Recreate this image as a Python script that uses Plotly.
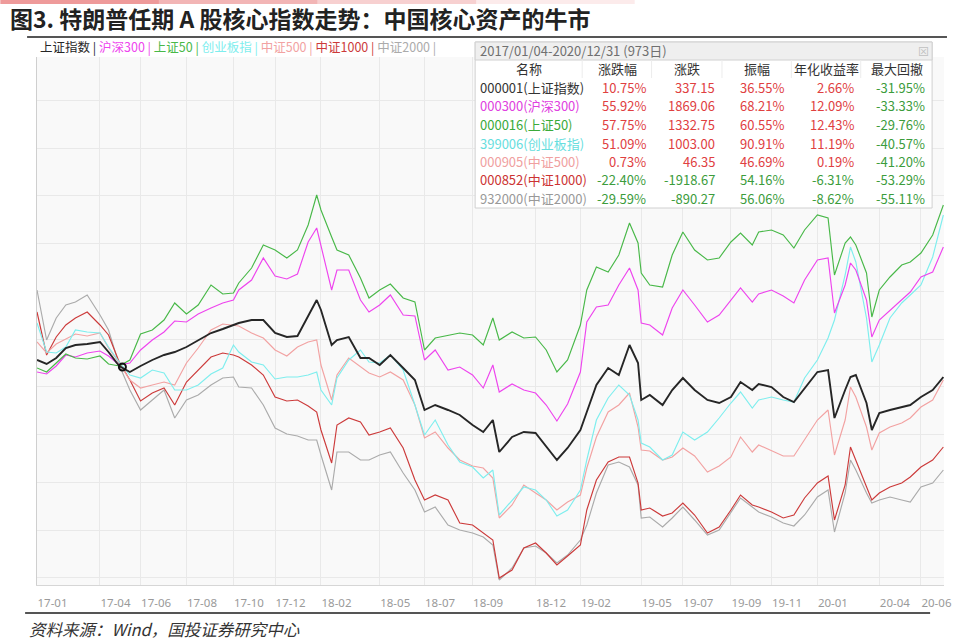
import plotly.graph_objects as go
import pandas as pd

# ---------------- data (normalised % change) ----------------
dates = [
"2017-01-03","2017-01-16","2017-02-01","2017-02-16","2017-03-01","2017-03-16","2017-04-01","2017-04-16","2017-05-01","2017-05-16",
"2017-06-01","2017-06-16","2017-07-01","2017-07-16","2017-08-01","2017-08-16","2017-09-01","2017-09-16","2017-10-01","2017-10-16",
"2017-11-01","2017-11-16","2017-12-01","2017-12-16","2018-01-01","2018-01-16","2018-01-26","2018-02-01","2018-02-16","2018-03-01",
"2018-03-16","2018-04-01","2018-04-16","2018-05-01","2018-05-16","2018-06-01","2018-06-16","2018-07-01","2018-07-16","2018-08-01",
"2018-08-16","2018-09-01","2018-09-16","2018-10-01","2018-10-16","2018-11-01","2018-11-16","2018-12-01","2018-12-16","2019-01-01",
"2019-01-16","2019-02-01","2019-02-16","2019-03-01","2019-03-16","2019-04-01","2019-04-16","2019-04-26","2019-05-06","2019-05-16",
"2019-06-01","2019-06-16","2019-07-01","2019-07-16","2019-08-01","2019-08-16","2019-09-01","2019-09-16","2019-10-01","2019-10-16",
"2019-11-01","2019-11-16","2019-12-01","2019-12-16","2020-01-01","2020-01-16","2020-02-03","2020-02-16","2020-02-24","2020-03-01",
"2020-03-16","2020-03-23","2020-04-01","2020-04-16","2020-05-01","2020-05-16","2020-06-01","2020-06-16","2020-07-02"]

sse = [1.6,0.8,2.0,4.0,4.6,4.8,5.2,3.2,0.4,-0.8,
       0.4,1.6,2.6,3.2,4.2,5.6,7.0,7.8,8.6,9.0,
       9.6,9.6,7.0,6.2,6.4,10.4,13.6,11.6,4.6,5.6,
       6.2,2.0,2.0,0.6,2.6,0.0,-2.4,-8.4,-7.4,-8.4,
       -9.4,-11.4,-12.8,-10.4,-16.8,-13.8,-12.8,-13.0,-15.8,-18.4,
       -16.0,-12.4,-8.8,-3.4,0.0,-1.4,4.6,1.0,-6.4,-5.4,
       -7.4,-4.4,-2.0,-4.4,-6.4,-7.0,-5.8,-2.8,-4.4,-3.2,
       -3.8,-5.8,-6.8,-4.0,-0.8,-0.4,-10.0,-4.4,-1.8,-1.4,
       -7.0,-12.4,-9.0,-8.4,-7.8,-7.4,-5.8,-4.4,-1.8]

sz50 = [0.0,-0.8,1.0,2.8,2.0,1.8,2.4,0.8,0.4,1.6,
        6.8,7.6,9.6,13.0,10.8,12.6,16.6,14.8,15.0,17.0,
        20.0,24.6,23.6,22.0,23.6,28.6,34.6,31.6,26.2,23.6,
        22.6,18.0,14.0,15.6,16.8,14.0,13.2,3.6,6.0,6.6,
        7.0,6.6,4.6,10.0,5.6,7.2,6.0,6.2,3.6,-0.8,
        1.6,8.6,15.6,20.2,19.2,22.6,29.0,25.0,19.0,16.6,
        16.2,22.6,27.2,23.6,21.6,22.0,25.2,27.0,24.6,27.2,
        27.6,26.6,24.0,27.6,30.6,30.0,18.6,25.0,26.2,24.6,
        19.0,10.2,15.6,18.2,20.6,21.2,23.0,26.6,32.6]

hs300 = [-0.8,-1.2,0.4,2.6,2.2,3.0,3.4,2.4,0.6,1.0,
         3.6,5.6,7.2,9.4,9.2,10.8,12.0,13.0,13.6,15.6,
         17.6,22.0,18.4,17.8,18.8,25.2,28.0,24.6,15.6,19.6,
         19.6,13.6,11.2,12.6,14.6,10.6,10.4,1.6,3.6,-0.4,
         0.2,-1.4,-4.0,0.6,-4.8,-3.2,-4.4,-5.0,-7.4,-10.6,
         -7.2,-0.8,9.2,12.2,12.6,16.6,20.0,15.6,9.0,8.6,
         6.6,12.0,15.6,12.6,9.2,10.6,13.6,16.0,13.2,14.8,
         15.6,14.4,13.0,17.6,21.6,22.0,11.0,16.6,21.0,19.6,
         13.6,6.2,9.6,11.6,13.6,15.2,18.2,19.2,24.2]

cyb = [9.0,3.2,3.0,4.2,7.6,7.2,7.0,4.2,1.2,-1.4,
       -2.0,-0.4,-1.0,-4.4,-4.4,-3.4,-1.2,0.0,4.6,3.2,
       1.2,0.6,-2.2,-1.8,-1.8,-1.4,-0.8,-4.4,-7.4,-2.0,
       1.6,3.6,1.2,1.0,2.6,-0.4,-7.4,-13.4,-10.4,-15.4,
       -18.8,-19.8,-22.0,-20.4,-29.4,-26.4,-23.8,-24.4,-26.4,-29.6,
       -28.4,-24.4,-18.4,-10.4,-6.0,-3.4,-5.4,-10.4,-15.0,-15.8,
       -18.4,-17.4,-12.8,-14.4,-12.8,-10.0,-7.0,-4.8,-8.0,-6.4,
       -5.8,-6.4,-6.8,-2.0,1.6,6.0,9.6,18.6,24.2,21.2,
       10.0,1.2,4.6,10.0,13.0,14.6,16.6,22.2,30.6]

zz500 = [5.2,3.0,4.8,5.8,6.8,6.4,7.0,4.0,1.0,-2.4,
         -4.0,-3.4,-2.8,-3.4,1.0,4.0,7.6,8.8,8.6,8.4,
         7.0,6.0,3.6,2.4,4.2,5.2,5.6,0.6,-6.4,-1.4,
         2.0,0.2,-1.0,-1.8,-0.8,-2.4,-7.4,-14.0,-12.8,-16.0,
         -18.4,-19.6,-20.0,-22.0,-30.0,-27.4,-23.4,-25.0,-26.4,-28.4,
         -26.8,-25.4,-20.0,-13.8,-8.8,-7.4,-5.0,-11.8,-16.4,-16.6,
         -18.4,-17.8,-16.0,-17.6,-20.8,-19.6,-17.8,-13.8,-16.8,-15.4,
         -16.6,-17.6,-17.6,-14.4,-10.4,-8.4,-17.4,-10.4,-3.8,-5.8,
         -11.8,-16.4,-13.0,-11.8,-11.0,-10.0,-7.8,-6.4,-2.4]

zz1000 = [11.2,2.6,6.2,8.6,10.0,11.2,8.6,6.6,1.2,-2.4,
          -6.6,-5.0,-4.0,-7.4,-2.8,-0.4,2.2,3.0,2.6,2.2,
          0.6,-1.4,-5.8,-6.6,-6.4,-7.6,-8.8,-12.4,-19.0,-11.4,
          -10.0,-10.8,-13.4,-12.8,-12.0,-16.0,-22.4,-26.4,-25.4,-26.4,
          -31.0,-31.4,-33.0,-34.4,-42.0,-40.4,-36.0,-35.0,-37.0,-39.4,
          -37.6,-35.4,-28.4,-22.4,-18.8,-17.8,-17.8,-23.0,-28.4,-28.0,
          -29.6,-29.0,-27.0,-29.4,-33.0,-31.8,-28.4,-25.4,-27.4,-27.8,
          -28.8,-30.0,-29.4,-26.0,-23.0,-21.6,-30.4,-23.4,-15.8,-18.4,
          -23.8,-26.4,-25.0,-23.8,-23.0,-21.8,-19.8,-18.4,-15.8]

zz2000 = [15.6,5.6,10.0,12.6,13.2,14.6,10.6,7.6,0.6,-4.4,
          -8.4,-6.4,-4.4,-10.0,-6.4,-5.4,-3.4,-2.0,-1.8,-3.8,
          -4.0,-7.4,-12.0,-13.2,-13.6,-14.4,-14.4,-17.4,-24.4,-16.8,
          -16.8,-18.4,-18.4,-17.4,-16.8,-21.0,-24.4,-28.8,-27.8,-31.4,
          -32.4,-33.0,-33.8,-35.4,-42.4,-40.0,-36.0,-35.6,-37.0,-39.0,
          -37.4,-34.4,-31.4,-25.0,-19.4,-18.8,-19.8,-23.4,-30.0,-29.8,
          -31.8,-30.0,-27.8,-30.4,-33.4,-32.4,-29.0,-26.0,-27.8,-28.8,
          -29.8,-31.0,-31.6,-29.4,-25.8,-24.4,-32.8,-25.0,-18.4,-20.4,
          -25.0,-27.0,-26.4,-25.8,-26.4,-26.8,-23.8,-23.0,-20.4]

marker_date = "2017-05-05"
marker_value = 0.2

series_names = ["上证指数", "沪深300", "上证50", "创业板指", "中证500", "中证1000", "中证2000"]

tick_months = ["2017-01-01","2017-04-01","2017-06-01","2017-08-01","2017-10-01","2017-12-01","2018-02-01",
               "2018-05-01","2018-07-01","2018-09-01","2018-12-01","2019-02-01","2019-05-01","2019-07-01",
               "2019-09-01","2019-11-01","2020-01-01","2020-04-01","2020-06-01"]
tick_text = ["17-01","17-04","17-06","17-08","17-10","17-12","18-02","18-05","18-07","18-09","18-12",
             "19-02","19-05","19-07","19-09","19-11","20-01","20-04","20-06"]

# exchange holidays (weekday closures) -> trading-day axis like Wind
holidays = ["2017-01-02","2017-01-27","2017-01-30","2017-01-31","2017-02-01","2017-02-02","2017-04-03","2017-04-04",
            "2017-05-01","2017-05-29","2017-05-30","2017-10-02","2017-10-03","2017-10-04","2017-10-05","2017-10-06",
            "2018-01-01","2018-02-15","2018-02-16","2018-02-19","2018-02-20","2018-02-21","2018-04-05","2018-04-06",
            "2018-04-30","2018-05-01","2018-06-18","2018-09-24","2018-10-01","2018-10-02","2018-10-03","2018-10-04",
            "2018-10-05","2018-12-31","2019-01-01","2019-02-04","2019-02-05","2019-02-06","2019-02-07","2019-02-08",
            "2019-04-05","2019-05-01","2019-05-02","2019-05-03","2019-06-07","2019-09-13","2019-10-01","2019-10-02",
            "2019-10-03","2019-10-04","2019-10-07","2020-01-01","2020-01-24","2020-01-27","2020-01-28","2020-01-29",
            "2020-01-30","2020-01-31","2020-04-06","2020-05-01","2020-05-04","2020-05-05","2020-06-25","2020-06-26"]

# table content
tbl_period = "2017/01/04-2020/12/31 (973日)"
tbl_header = ["名称", "涨跌幅", "涨跌", "振幅", "年化收益率", "最大回撤"]
tbl_codes = ["000001(上证指数)", "000300(沪深300)", "000016(上证50)", "399006(创业板指)",
             "000905(中证500)", "000852(中证1000)", "932000(中证2000)"]
tbl_chg_pct = ["10.75%", "55.92%", "57.75%", "51.09%", "0.73%", "-22.40%", "-29.59%"]
tbl_chg = ["337.15", "1869.06", "1332.75", "1003.00", "46.35", "-1918.67", "-890.27"]
tbl_amp = ["36.55%", "68.21%", "60.55%", "90.91%", "46.69%", "54.16%", "56.06%"]
tbl_ann = ["2.66%", "12.09%", "12.43%", "11.19%", "0.19%", "-6.31%", "-8.62%"]
tbl_mdd = ["-31.95%", "-33.33%", "-29.76%", "-40.57%", "-41.20%", "-53.29%", "-55.11%"]

# ---------------- styles ----------------
colors = {"上证指数": "#262626", "沪深300": "#ee44ee", "上证50": "#48b848", "创业板指": "#7eeeee",
          "中证500": "#f2a2a2", "中证1000": "#cc3a3a", "中证2000": "#ababab"}
name_colors = ["#333333", "#e040e0", "#3aaa3a", "#66dede", "#f0a0a0", "#cc3333", "#999999"]
RED, GREEN = "#e0403f", "#3c9c3c"
FONT = "Noto Sans CJK SC, Noto Sans, sans-serif"

# ---------------- trading-day axis ----------------
bdays = pd.bdate_range("2017-01-03", "2020-07-31", freq="C", holidays=holidays)
xi = list(bdays.searchsorted(pd.to_datetime(dates)))
tickvals = list(bdays.searchsorted(pd.to_datetime(tick_months)))
marker_x = int(bdays.searchsorted(pd.Timestamp(marker_date)))

series_vals = {"上证指数": sse, "沪深300": hs300, "上证50": sz50, "创业板指": cyb,
               "中证500": zz500, "中证1000": zz1000, "中证2000": zz2000}

fig = go.Figure()
for name in ["中证2000", "中证1000", "中证500", "创业板指", "沪深300", "上证50", "上证指数"]:
    fig.add_trace(go.Scatter(x=xi, y=series_vals[name], mode="lines", name=name,
                             line=dict(color=colors[name], width=1.9 if name == "上证指数" else 1.15),
                             showlegend=False))
fig.add_trace(go.Scatter(x=[marker_x], y=[marker_value], mode="markers", showlegend=False,
                         marker=dict(size=7, color="rgba(0,0,0,0)", line=dict(color="#111", width=2))))

# ---------------- layout geometry (pixels) ----------------
L, R, T, B = 37, 952, 57, 585
W, H = R - L, B - T


def px(x):
    return (x - L) / W


def py(y):
    return (B - y) / H


annotations = []


def add_text(x, y, text, size, color, xanchor="left", yanchor="middle", family=FONT):
    annotations.append(dict(x=px(x), y=py(y), xref="paper", yref="paper", text=text, showarrow=False,
                            xanchor=xanchor, yanchor=yanchor, font=dict(size=size, color=color, family=family)))


# title
add_text(8, 18, "<b>图3. 特朗普任期 A 股核心指数走势：中国核心资产的牛市</b>", 23, "#222222")
# legend line
leg = " ".join(f"<span style='color:{colors[n]}'>{n} |</span>" for n in series_names)
add_text(38, 47, leg, 12.5, "#333")
# source
add_text(27, 629, "<i>资料来源：Wind，国投证券研究中心</i>", 16.5, "#333333")

shapes = []
# top pink gradient bar
for i, (a, b, op) in enumerate([(0, 160, 0.75), (160, 320, 0.55), (320, 480, 0.35), (480, 640, 0.15)]):
    shapes.append(dict(type="rect", xref="paper", yref="paper", x0=px(a), x1=px(b), y0=py(4), y1=py(0),
                       line=dict(width=0), fillcolor=f"rgba(232,120,120,{op})", layer="above"))
# title rule and bottom rule
shapes.append(dict(type="line", xref="paper", yref="paper", x0=px(27), x1=px(955), y0=py(37), y1=py(37),
                   line=dict(color="#555555", width=2), layer="above"))
shapes.append(dict(type="line", xref="paper", yref="paper", x0=px(25), x1=px(938), y0=py(613), y1=py(613),
                   line=dict(color="#555555", width=2), layer="above"))

# table box
TX0, TX1, TY0, TY1 = 479, 940, 42, 208
shapes.append(dict(type="rect", xref="paper", yref="paper", x0=px(TX0), x1=px(TX1), y0=py(TY1), y1=py(TY0),
                   line=dict(color="#d0d0d0", width=1), fillcolor="white", layer="above"))
shapes.append(dict(type="rect", xref="paper", yref="paper", x0=px(TX0), x1=px(TX1), y0=py(60), y1=py(TY0),
                   line=dict(color="#d0d0d0", width=1), fillcolor="#efefef", layer="above"))
for sx in [587, 657, 728, 798, 868]:
    shapes.append(dict(type="line", xref="paper", yref="paper", x0=px(sx), x1=px(sx), y0=py(78), y1=py(60),
                       line=dict(color="#ececec", width=1), layer="above"))

add_text(482, 51, tbl_period, 13, "#707070")
add_text(931, 51, "⊠", 11, "#c0c0c0", xanchor="center")

head_x = [533, 623, 693, 763, 833, 905]
for hx, htxt in zip(head_x, tbl_header):
    add_text(hx, 69, htxt, 13, "#333333", xanchor="center")

col_right = [653, 723, 793, 863, 935]
for i in range(len(tbl_codes)):
    ry = 87.5 + 18.5 * i
    add_text(482, ry, tbl_codes[i], 13, name_colors[i])
    pos = not tbl_chg_pct[i].startswith("-")
    vals = [tbl_chg_pct[i], tbl_chg[i], tbl_amp[i], tbl_ann[i], tbl_mdd[i]]
    cols = [RED if pos else GREEN, RED if pos else GREEN, RED if pos else GREEN,
            RED if not tbl_ann[i].startswith("-") else GREEN, GREEN]
    for cx, v, c in zip(col_right, vals, cols):
        add_text(cx, ry, v, 13, c, xanchor="right")

x_end = max(xi) + 0.6
fig.update_layout(
    width=960, height=642,
    margin=dict(l=L, r=960 - R, t=T, b=642 - B, pad=0),
    paper_bgcolor="white", plot_bgcolor="#f9f9f9",
    font=dict(family=FONT),
    annotations=annotations, shapes=shapes,
    xaxis=dict(range=[0, x_end], tickmode="array", tickvals=tickvals, ticktext=tick_text,
               ticklabelposition="outside right", ticks="", ticklabelstandoff=7,
               tickfont=dict(size=11.5, color="#9a9a9a", family="Noto Sans, sans-serif"),
               showgrid=True, gridcolor="#e9e9e9", gridwidth=1, zeroline=False,
               showline=True, linecolor="#d6d6d6", linewidth=1, mirror=False),
    yaxis=dict(range=[-43.4, 62.2], tickmode="linear", tick0=5.8, dtick=9.55, showticklabels=False,
               ticks="", showgrid=True, gridcolor="#e9e9e9", gridwidth=1, zeroline=False,
               showline=True, linecolor="#cfcfcf", linewidth=1),
    hovermode=False,
)

fig.write_html("out.html")
